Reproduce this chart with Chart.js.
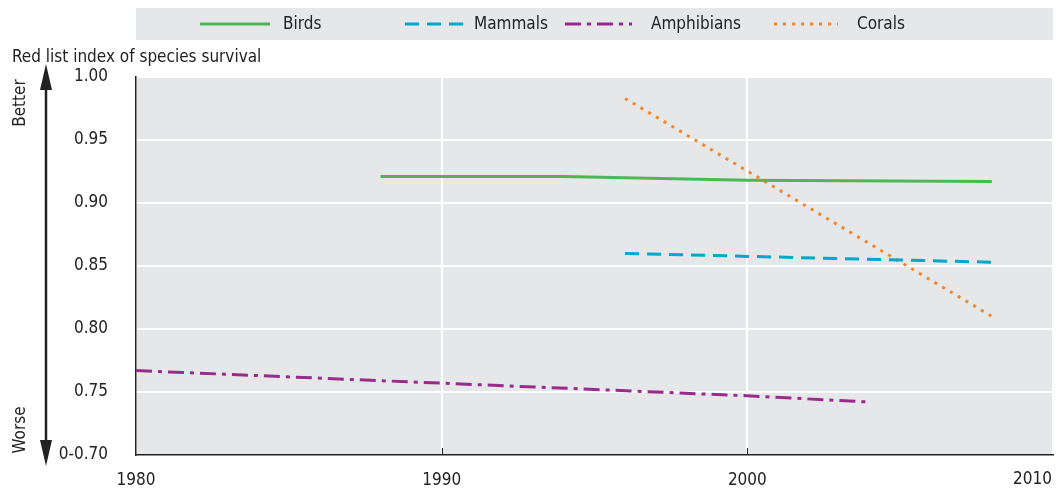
<!DOCTYPE html>
<html>
<head>
<meta charset="utf-8">
<script src="https://cdn.jsdelivr.net/npm/chart.js@4"></script>
<style>
  html, body { margin: 0; padding: 0; background: #fff; }
  #wrap { width: 1056px; height: 489px; position: relative; }
</style>
</head>
<body>
<div id="wrap"><canvas id="chart"></canvas></div>
<script>
// values
const birdsYears = [1988, 1994, 2000, 2008];
const birdsValues = [0.921, 0.921, 0.918, 0.917];
const mammalsYears = [1996, 2008];
const mammalsValues = [0.860, 0.853];
const amphibiansYears = [1980, 1990, 2000, 2004];
const amphibiansValues = [0.767, 0.757, 0.747, 0.742];
const coralsYears = [1996, 2008];
const coralsValues = [0.983, 0.810];
const yTicks = [0.70, 0.75, 0.80, 0.85, 0.90, 0.95, 1.00];
const xTicks = [1980, 1990, 2000, 2010];

const FONT = "'Liberation Sans Narrow', 'DejaVu Sans Condensed', sans-serif";
const FSIZE = 17;

function pts(xs, ys) {
  return xs.map((x, i) => ({ x: x, y: ys[i] }));
}

const datasets = [
  { label: "Birds", data: pts(birdsYears, birdsValues), borderColor: "#4bb755", borderDash: [] },
  { label: "Mammals", data: pts(mammalsYears, mammalsValues), borderColor: "#00a8cc", borderDash: [14, 8] },
  { label: "Amphibians", data: pts(amphibiansYears, amphibiansValues), borderColor: "#9a2a8c", borderDash: [16, 6, 4, 6] },
  { label: "Corals", data: pts(coralsYears, coralsValues), borderColor: "#f4862a", borderDash: [3, 6] }
].map(d => Object.assign(d, { borderWidth: 3, pointRadius: 0, fill: false, tension: 0 }));

// grey plot background, legend band, y title, better/worse arrow, last x label
const decor = {
  id: "decor",
  beforeDraw(chart) {
    const { ctx, chartArea: a } = chart;
    ctx.save();
    ctx.fillStyle = "#e6e7e8";
    ctx.fillRect(a.left, a.top, a.right - a.left, a.bottom - a.top);
    // legend band
    ctx.fillRect(a.left, 8, a.right - a.left, 32);
    ctx.restore();
  },
  afterDraw(chart) {
    const { ctx, chartArea: a } = chart;
    ctx.save();
    // small dark ticks at foot of vertical grid lines
    const xs = chart.scales.x;
    ctx.strokeStyle = "#222";
    ctx.lineWidth = 1;
    xTicks.slice(1, -1).forEach(v => {
      const px = Math.round(xs.getPixelForValue(v)) + 0.5;
      ctx.beginPath();
      ctx.moveTo(px, a.bottom);
      ctx.lineTo(px, a.bottom - 7);
      ctx.stroke();
    });
    // legend
    const items = [
      { line: [200, 270], text: 283 },
      { line: [405, 466], text: 474 },
      { line: [565, 632], text: 651 },
      { line: [774, 838], text: 857 }
    ];
    ctx.font = FSIZE + "px " + FONT;
    ctx.textBaseline = "middle";
    ctx.fillStyle = "#222";
    items.forEach((it, i) => {
      const ds = chart.data.datasets[i];
      ctx.beginPath();
      ctx.strokeStyle = ds.borderColor;
      ctx.lineWidth = 3;
      ctx.setLineDash(ds.borderDash);
      ctx.moveTo(it.line[0], 24);
      ctx.lineTo(it.line[1], 24);
      ctx.stroke();
      ctx.setLineDash([]);
      ctx.fillText(ds.label, it.text, 25);
    });
    // last x label, kept inside the canvas
    ctx.textAlign = "right";
    ctx.fillText(String(xTicks[xTicks.length - 1]), xs.getPixelForValue(xTicks[xTicks.length - 1]) - 1, 480);
    // y title
    ctx.textBaseline = "alphabetic";
    ctx.textAlign = "left";
    ctx.fillText("Red list index of species survival", 12, 62);
    // arrow
    const x = 46;
    ctx.strokeStyle = "#222";
    ctx.fillStyle = "#222";
    ctx.lineWidth = 2.5;
    ctx.beginPath();
    ctx.moveTo(x, 85);
    ctx.lineTo(x, 450);
    ctx.stroke();
    ctx.beginPath();
    ctx.moveTo(x, 64); ctx.lineTo(x - 6, 90); ctx.lineTo(x + 6, 90); ctx.closePath();
    ctx.fill();
    ctx.beginPath();
    ctx.moveTo(x, 466); ctx.lineTo(x - 6, 440); ctx.lineTo(x + 6, 440); ctx.closePath();
    ctx.fill();
    ctx.textAlign = "center";
    ctx.textBaseline = "middle";
    ctx.save();
    ctx.translate(21, 103);
    ctx.rotate(-Math.PI / 2);
    ctx.fillText("Better", 0, 0);
    ctx.restore();
    ctx.save();
    ctx.translate(21, 430);
    ctx.rotate(-Math.PI / 2);
    ctx.fillText("Worse", 0, 0);
    ctx.restore();
    ctx.restore();
  }
};

new Chart(document.getElementById("chart"), {
  type: "line",
  data: { datasets: datasets },
  plugins: [decor],
  options: {
    responsive: true,
    maintainAspectRatio: false,
    animation: false,
    layout: { padding: { left: 0, right: 3, top: 77, bottom: 0 } },
    plugins: { legend: { display: false }, tooltip: { enabled: false } },
    scales: {
      x: {
        type: "linear",
        min: 1980,
        max: 2010,
        afterBuildTicks(s) { s.ticks = xTicks.map(v => ({ value: v })); },
        afterFit(s) { s.height = 34; s.paddingLeft = 0; s.paddingRight = 0; },
        grid: { color: "#ffffff", lineWidth: 2, drawTicks: false },
        border: { color: "#222", width: 1.5 },
        ticks: { color: "#222", font: { family: FONT, size: FSIZE }, padding: 15, maxRotation: 0,
          callback: v => (v === xTicks[xTicks.length - 1] ? "" : String(v)) }
      },
      y: {
        min: 0.70,
        max: 1.00,
        afterBuildTicks(s) { s.ticks = yTicks.map(v => ({ value: v })); },
        afterFit(s) { s.width = 136; s.paddingTop = 0; s.paddingBottom = 0; },
        grid: { color: "#ffffff", lineWidth: 2, drawTicks: false },
        border: { color: "#222", width: 1.5 },
        ticks: { color: "#222", font: { family: FONT, size: FSIZE }, padding: 28,
          callback: v => (Math.abs(v - 0.70) < 1e-6 ? "0-0.70" : v.toFixed(2)) }
      }
    }
  }
});
</script>
</body>
</html>
